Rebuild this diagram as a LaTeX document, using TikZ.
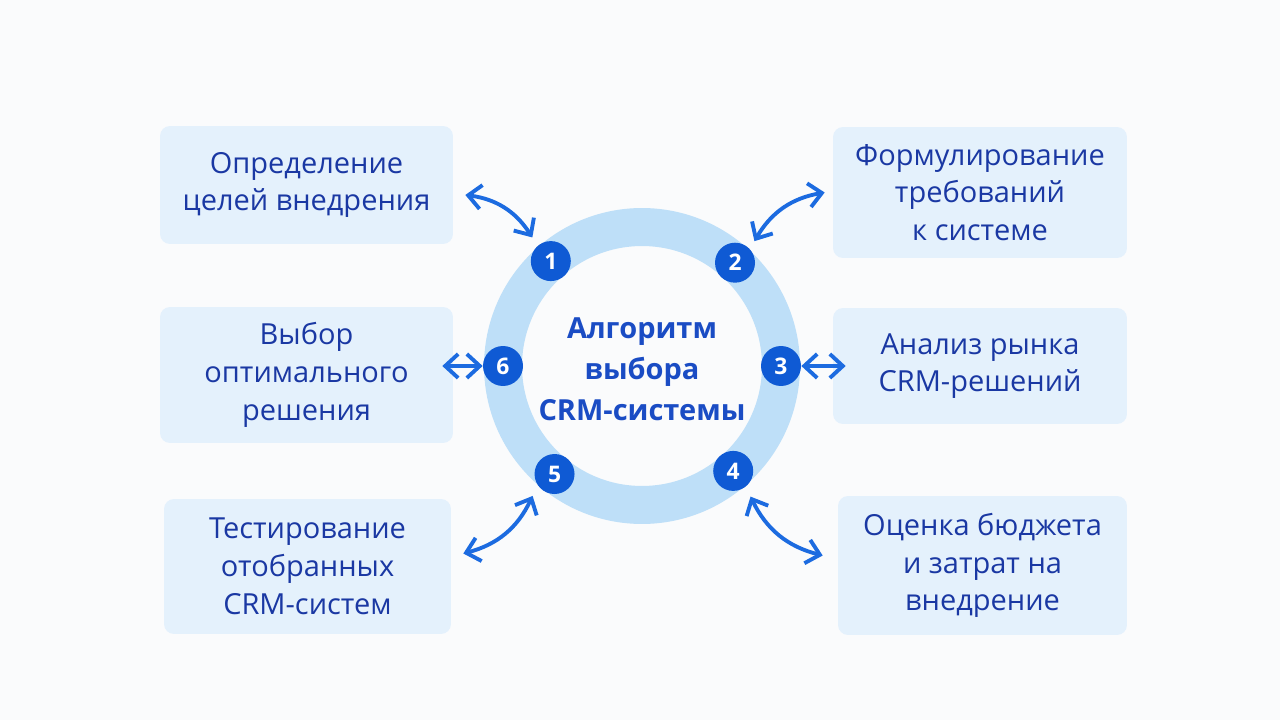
\documentclass[tikz,border=0pt]{standalone}
\usepackage{fontspec}
\setmainfont{Open Sans}
\usetikzlibrary{arrows.meta,calc}

\definecolor{pagebg}{HTML}{FAFBFC}
\definecolor{boxfill}{HTML}{E4F1FC}
\definecolor{boxtext}{HTML}{1A38A3}
\definecolor{ringblue}{HTML}{BEDFF8}
\definecolor{badgeblue}{HTML}{0F5AD4}
\definecolor{linkblue}{HTML}{1C6BE0}
\definecolor{titleblue}{HTML}{1A4CC4}

\tikzset{
  stepbox/.style={fill=boxfill, rounded corners=0.2cm, text=boxtext, align=center,
    inner sep=0pt, font=\fontsize{16.5}{21.5}\selectfont},
  badge/.style={circle, fill=badgeblue, text=white, inner sep=0pt, minimum size=0.8cm,
    font=\bfseries\fontsize{13}{13}\selectfont},
  barb/.tip={Straight Barb[length=2.6mm,width=4.8mm]},
  link/.style={draw=linkblue, line width=2.2pt, barb-barb},
}

\begin{document}
\begin{tikzpicture}[x=0.02cm, y=0.02cm]
\fill[pagebg] (0,0) rectangle (1280,720);
\useasboundingbox (0,0) rectangle (1280,720);

% ring with the title
\node (ring) [circle, draw=ringblue, line width=0.76cm, minimum size=5.56cm] at (642,354) {};
\node (title) [align=center, text=titleblue, font=\bfseries\fontsize{16.5}{23.2}\selectfont]
    at (642,351) {Алгоритм\\выбора\\CRM-системы};

\foreach \i/\a in {1/131, 2/48, 3/0, 4/-49, 5/-129, 6/180}
    \node[badge] (n\i) at ($(ring)+(\a:139)$) {\i};

% steps
\node[stepbox, minimum width=5.86cm, minimum height=2.36cm] (b1) at (306.5,535)
    {Определение\\целей внедрения};
\node[stepbox, minimum width=5.88cm, minimum height=2.62cm] (b2) at (980,527.5)
    {Формулирование\\требований\\к системе};
\node[stepbox, minimum width=5.88cm, minimum height=2.32cm] (b3) at (980,354)
    {Анализ рынка\\CRM-решений};
\node[stepbox, minimum width=5.78cm, minimum height=2.78cm] (b4) at (982.5,154.5)
    {Оценка бюджета\\и затрат на\\внедрение};
\node[stepbox, minimum width=5.74cm, minimum height=2.70cm] (b5) at (307.5,153.5)
    {Тестирование\\отобранных\\CRM-систем};
\node[stepbox, minimum width=5.86cm, minimum height=2.72cm] (b6) at (306.5,345)
    {Выбор\\оптимального\\решения};

\draw[link] ($(b1.east)+(12,-10)$) to[bend left=25] ($(n1)+(128:30)$);
\draw[link] ($(b2.west)+(-8,0)$) to[bend right=25] ($(n2)+(48:29)$);
\draw[link] (n3.east) -- ($(b3.west|-n3)+(13,0)$);
\draw[link] ($(b4.west)+(-15,10)$) to[bend left=25] ($(n4)+(-56:31)$);
\draw[link] ($(b5.east)+(12,13)$) to[bend right=25] ($(n5)+(225:31)$);
\draw[link] ($(b6.east|-n6)+(-11,0)$) -- (n6.west);
\end{tikzpicture}
\end{document}
